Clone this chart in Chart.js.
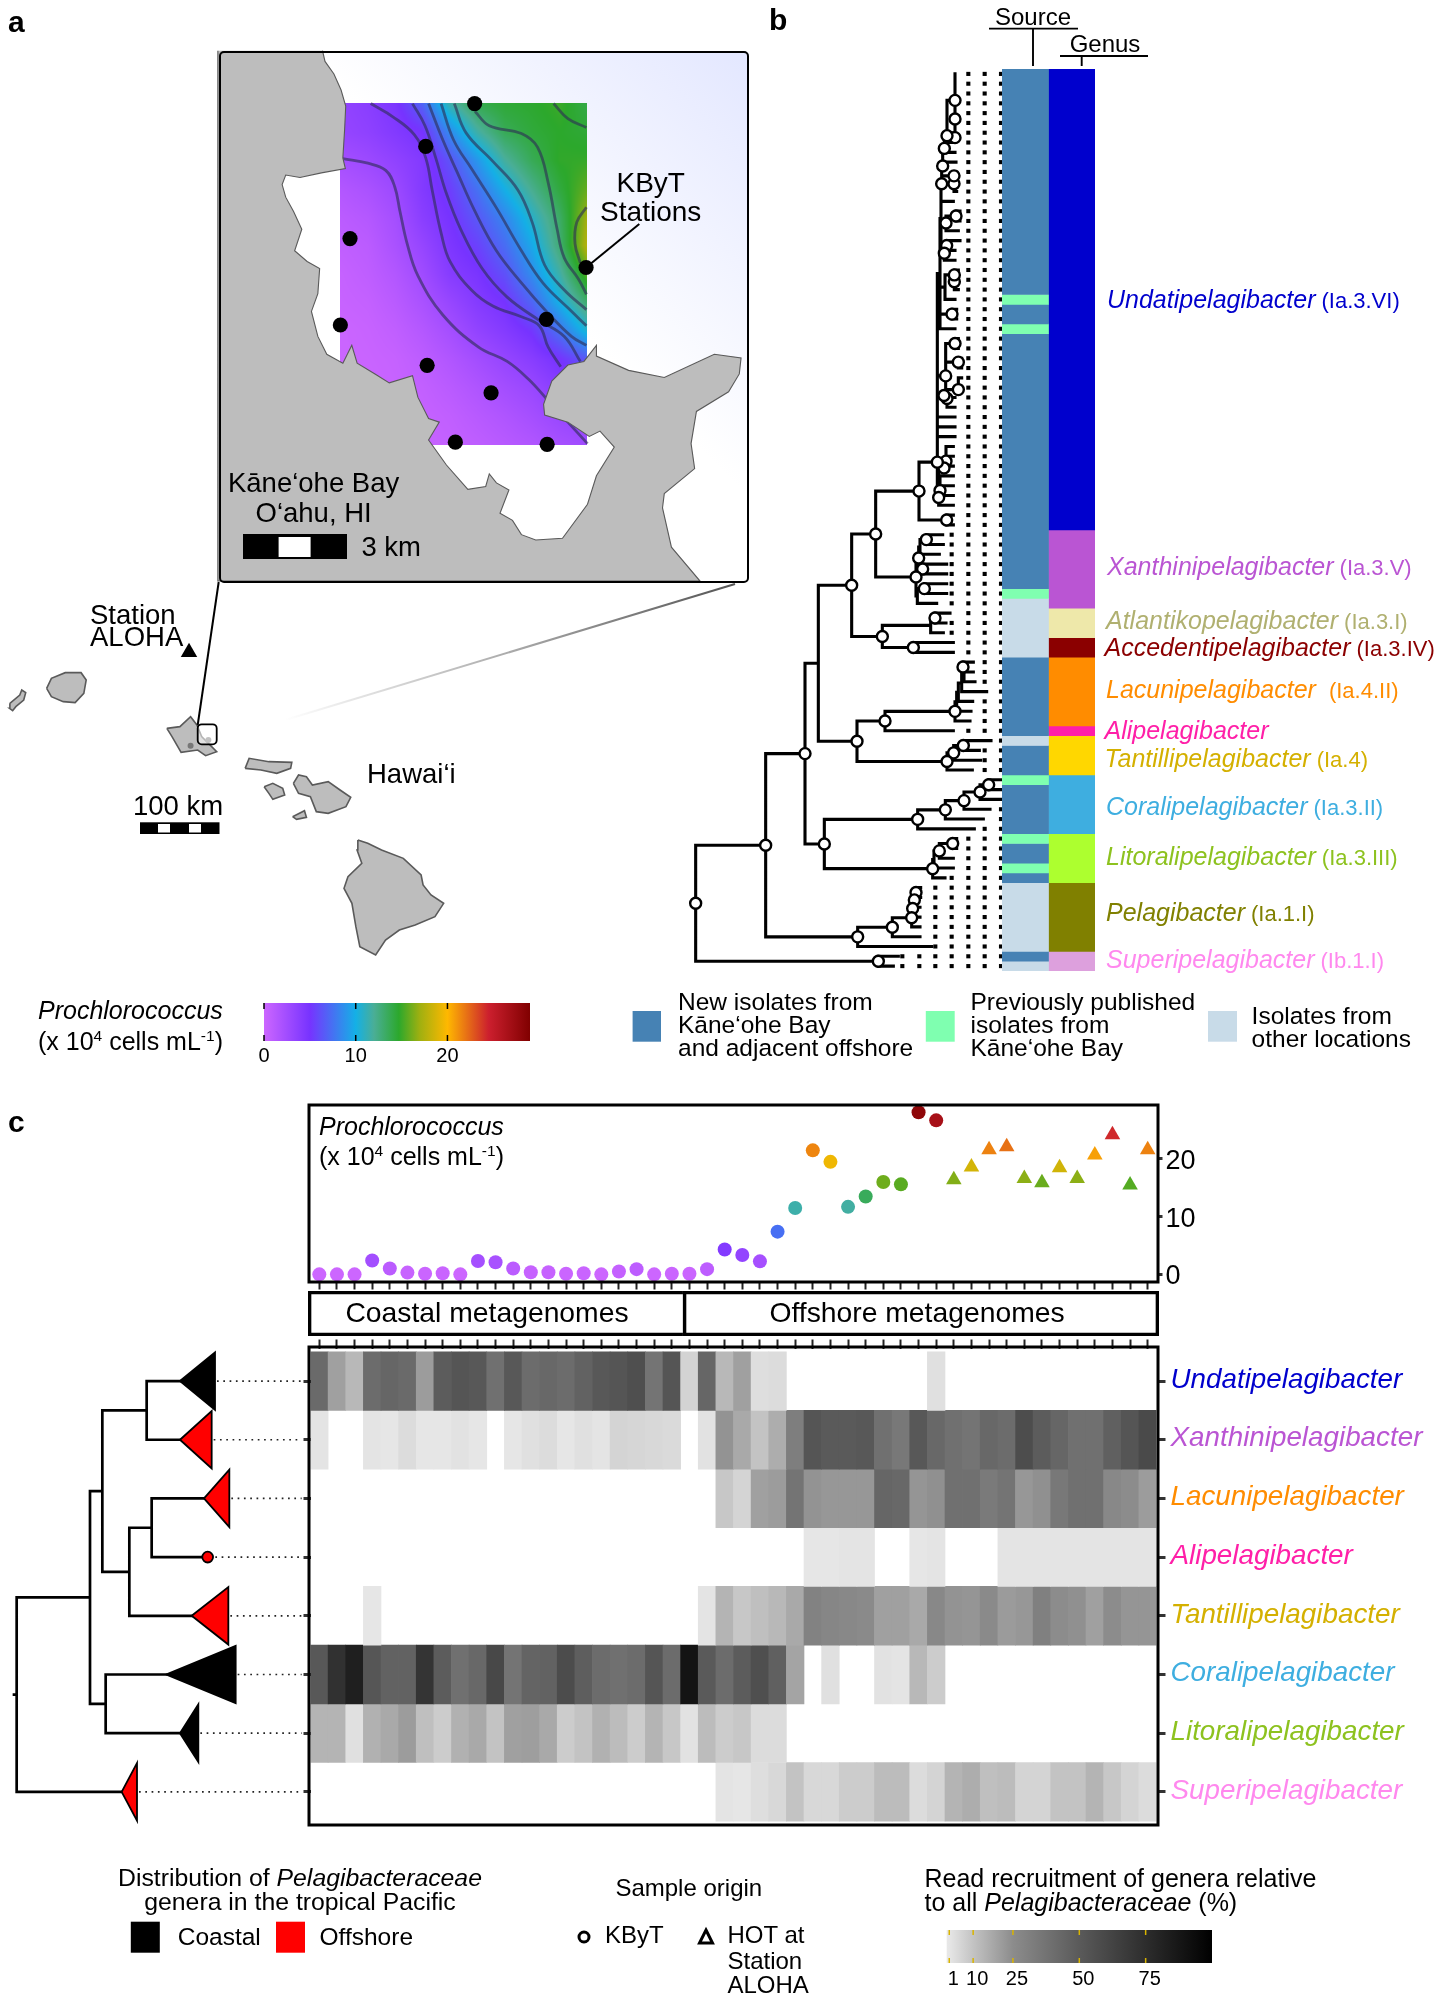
<!doctype html>
<html><head><meta charset="utf-8">
<style>
html,body{margin:0;background:#fff}
body{width:1444px;height:2000px;overflow:hidden}
#page{position:absolute;left:0;top:0;width:1444px;height:2000px;overflow:hidden;font-family:"Liberation Sans",Arial,sans-serif;color:#000}
canvas,.t,svg,.box{position:absolute}
.t{white-space:nowrap;line-height:1}
sup{font-size:62%;vertical-align:baseline;position:relative;top:-.55em;line-height:0}
</style>
<script src="https://cdn.jsdelivr.net/npm/chart.js@4"></script>
</head><body><div id="page"></div>
<script>
/* ---------- panel c data ---------- */
const sampleIds = ['K1','K2','K3','K4','K5','K6','K7','K8','K9','K10','K11','K12','K13','K14','K15','K16','K17','K18','K19','K20','K21','O1','O2','O3','O4','O5','O6','O7','O8','O9','O10','O11','O12','O13','O14','O15','H1','H2','H3','H4','H5','H6','H7','H8','H9','H10','H11','H12'];
const prochlorococcus = [0,0,0,2.4,1,0.3,0.1,0.2,0,2.3,2.1,1,0.35,0.35,0.1,0.2,0,0.5,0.9,0,0.1,0.1,0.9,4.3,3.35,2.25,7.4,11.5,21.5,19.5,11.7,13.5,16,15.6,28.1,26.7,16.4,18.6,21.6,22.1,16.6,15.9,18.5,16.6,20.7,24.2,15.5,21.6];
const sampleOrigin = ['KByT','KByT','KByT','KByT','KByT','KByT','KByT','KByT','KByT','KByT','KByT','KByT','KByT','KByT','KByT','KByT','KByT','KByT','KByT','KByT','KByT','KByT','KByT','KByT','KByT','KByT','KByT','KByT','KByT','KByT','KByT','KByT','KByT','KByT','KByT','KByT','HOT','HOT','HOT','HOT','HOT','HOT','HOT','HOT','HOT','HOT','HOT','HOT'];
const genusRows = ['Undatipelagibacter','Xanthinipelagibacter','Lacunipelagibacter','Alipelagibacter','Tantillipelagibacter','Coralipelagibacter','Litoralipelagibacter','Superipelagibacter'];
const genusRowColors = ['#0000cd','#ba55d3','#ff8c00','#ff1fa8','#d4b000','#3eaee0','#8dc21f','#ff88ee'];
const undati = [42,19.5,13,41,44,42,20.6,49,53,51,39,51,41,43,41,46,51,53,56,37,53,6,44,13,19.5,3,3.5,0,0,0,0,0,0,0,0,2.5,0,0,0,0,0,0,0,0,0,0,0,0];
const xanthi = [1.5,0,0,1.5,1,3.5,1,1,2,1,0,1,2.5,3.5,1,2.5,1.5,5.6,5,4.6,4,0,2,23,17,10,16,32,53,50,50,51,39,35,51,43,39,37,43,41,57,49,44,39,39,47,53,59];
const lacuni = [0,0,0,0,0,0,0,0,0,0,0,0,0,0,0,0,0,0,0,0,0,0,0,9,5.6,19.5,20.6,37,23,22,22,22,44,43,22.5,24,39,39,34,37,22,24,35,39,39,27,25,20.6];
const ali = [0,0,0,0,0,0,0,0,0,0,0,0,0,0,0,0,0,0,0,0,0,0,0,0,0,0,0,0,1,1,1.5,1.5,0,0,1,1.5,0,0,0,1.5,1.5,1.5,1.5,1.5,1.5,1.5,1.5,1.5];
const tantilli = [0,0,0,1,0,0,0,0,0,0,0,0,0,0,0,0,0,0,0,0,0,0,1.5,14,9,11,13,17,30,28,27,26,19.5,19.5,17,27,23,22.5,26,21,22,31,25,24,19.5,25,22.5,22.5];
const corali = [51,73,83,52,46,46,71,49,39,43,60,37,45,46,58,48,41,39,41,53,41,89,50,41,49,56,47,18.5,0,2.5,0,0,2,1.5,13,7.7,0,0,0,0,0,0,0,0,0,0,0,0];
const litoral = [14,14,2.5,15,17,20.6,11,7.7,15,17,10,19.5,20,17,7.7,10,15,12,7.7,14,9,2,12,7.7,9,3.5,3.5,0,0,0,0,0,0,0,0,0,0,0,0,0,0,0,0,0,0,0,0,0];
const superi = [0,0,0,0,0,0,0,0,0,0,0,0,0,0,0,0,0,0,0,0,0,0,0,1.5,1,3,4.6,10,4.6,4.6,7.7,7.7,12,12,3.5,5.6,14,16,11,12,5.6,5.6,10,10,14,9,5.6,3.5];
const heatRows = [undati,xanthi,lacuni,ali,tantilli,corali,litoral,superi];
const regionNames = ['Coastal metagenomes','Offshore metagenomes'];
const regionEdges = [0,21.15,48];
const recruitTicks = [1,10,25,50,75];
const grayStops = [[0,232],[1,230],[10,195],[25,140],[50,90],[75,45],[100,0]];
const cellTicks = [0,10,20];
const cellStops = [[0,'#cc66ff'],[5,'#7733ff'],[10,'#14b0e6'],[12,'#4aae96'],[14.7,'#2ca82c'],[17,'#a0b010'],[20,'#ffb800'],[24.5,'#cc1f2e'],[29,'#800000']];

/* ---------- trees: nodes are depth values, tips are numbers; rows follow tip order ---------- */
const N=(x,...c)=>({x,c,m:true});
const B=(x,...c)=>({x,c,m:false});
const R=(x,r,...c)=>({x,r,c,m:true});
const treeCdata = B(50,B(270,B(307,B(440,540,540),B(388,B(455,612,610),575)),B(317,498,540)),365);
const cladeTip = [540,540,612,623,575,498,540,365];
const cladeEnd = [645,635,688,640,685,707,595,411];
const cladeHabitat = ['coastal','offshore','offshore','offshore','offshore','coastal','coastal','offshore'];
const undatiTop = R(905,11.2,R(908,9.4,R(913,7.6,R(921,6.3,R(945,2.7,945,B(945,R(945,4.6,945,945,945),R(945,6.5,945,945))),945),945),945,948),R(942,10.4,950,R(942,11.2,950,950)));
const undatiSpine = B(892,
  B(900,
    B(903,undatiTop,940,R(918,15.2,R(948,14.5,960,960),955),R(913,18.3,R(920,17.5,960,945),945)),
    B(915,R(943,20.5,955,R(943,21.2,955,955)),945),
    R(936,24.5,950,950),
    945),
  R(917,30.8,R(945,27.5,955,955),R(955,29.4,965,965),R(955,32.2,965,965)),
  R(912,32.8,R(921,33.1,945,945)),
  945,945,945);
const undatiLow = R(896,43.2,R(912,40.2,R(918,39.5,940,940),940),R(900,42.5,940,940),940,940);
const treeBdata = N(167,
  N(377,
    N(495,
      B(535,
        N(635,
          N(707,
            N(837,R(892,39.6,undatiSpine,undatiLow),N(920,940,940)),
            N(828,N(836,B(840,N(859,908,910),898),N(848,920,920)),B(832,N(853,920,920),890))),
          N(727,B(872,N(885,930,918),910),N(820,940,940))),
        N(651,
          N(735,N(945,B(950,B(955,B(965,B(972,N(969,1000,1000),1005),1040),998),993),990),940),
          N(921,N(941,N(970,1053,1018),1022),997))),
      N(553,
        N(833,N(916,N(972,N(1020,N(1046,1087,1087),1087),1050),1030),1003),
        N(878,B(882,N(898,N(938,950,950),940),940),915))),
    N(653,N(757,N(815,N(818,N(823,N(828,842,842),840),840),840),840),875)),
  N(715,775,760));
const leaderCols = [787,838,886,935,985,1034,1083];

/* ---------- panel b bars ---------- */
const barColumns = ['Source','Genus'];
const sourceEdges = [0,23,24,26,27,53,54,60,68,69,72,73,78,79,81,82,83,90,91,92];
const sourceKinds = ['new','prev','new','prev','new','prev','other','new','other','new','prev','new','prev','new','prev','new','other','new','other'];
const sourceColors = {new:'#4682b4',prev:'#7fffb0',other:'#c8dbe8'};
const genusEdges = [0,47,55,58,60,67,68,72,78,83,90,92];
const genusBarColors = ['#0000cd','#ba55d3','#eee8aa','#8b0000','#ff8c00','#ff1fa8','#ffd700','#3eaee0','#adff2f','#808000','#dda0dd'];
const genusNames = ['Undatipelagibacter','Xanthinipelagibacter','Atlantikopelagibacter','Accedentipelagibacter','Lacunipelagibacter','Alipelagibacter','Tantillipelagibacter','Coralipelagibacter','Litoralipelagibacter','Pelagibacter','Superipelagibacter'];
const genusClades = ['(Ia.3.VI)','(Ia.3.V)','(Ia.3.I)','(Ia.3.IV)','(Ia.4.II)','','(Ia.4)','(Ia.3.II)','(Ia.3.III)','(Ia.1.I)','(Ib.1.I)'];
const genusLabelColors = ['#0000cd','#ba55d3','#b0b070','#8b0000','#ff8c00','#ff1fa8','#d4b000','#3eaee0','#8dc21f','#808000','#ff88ee'];

/* ---------- panel a map data (map units) ---------- */
const kaneoheLand = [[343,30],[350,60],[375,95],[395,140],[408,185],[405,250],[400,330],[407,360],[340,372],[280,385],[240,378],[230,405],[240,440],[262,480],[285,530],[265,590],[300,620],[335,640],[330,710],[312,760],[330,830],[355,880],[400,905],[425,855],[440,905],[490,935],[530,960],[595,940],[610,1000],[640,1060],[670,1070],[640,1120],[690,1190],[750,1258],[800,1250],[810,1215],[830,1240],[865,1260],[840,1325],[875,1345],[900,1385],[940,1400],[1015,1395],[1085,1300],[1110,1220],[1160,1140],[1120,1095],[1090,1110],[1030,1070],[965,1050],[962,1020],[985,955],[1030,910],[1075,900],[1110,855],[1110,885],[1200,925],[1300,945],[1440,880],[1515,890],[1510,935],[1480,985],[1390,1040],[1375,1130],[1385,1200],[1300,1270],[1295,1310],[1320,1420],[1400,1515],[50,1515],[50,30]];
const contours = [
 [[400,332],[470,345],[520,365],[545,410],[560,480],[580,570],[610,660],[680,770],[780,860],[860,900],[920,950],[975,1010],[1030,1070],[1085,1130]],
 [[478,178],[540,215],[600,265],[632,330],[650,420],[675,540],[700,620],[760,700],[820,745],[900,775],[950,800],[975,860],[1010,915]],
 [[595,178],[630,240],[660,330],[690,430],[730,530],[790,640],[860,720],[950,785],[1020,830],[1065,900]],
 [[640,178],[680,280],[720,370],[770,480],[830,590],[900,680],[970,760],[1040,830],[1082,855]],
 [[675,178],[710,280],[760,360],[830,470],[900,590],[960,680],[1030,750],[1082,800]],
 [[712,178],[745,260],[820,340],[890,420],[930,510],[965,630],[1020,700],[1082,755]],
 [[770,200],[810,240],[900,262],[945,300],[975,400],[1000,530],[1020,610],[1060,670],[1082,712]],
 [[990,178],[1030,220],[1082,245]],
 [[1082,468],[1055,510],[1050,570],[1065,625]]];
const stations = [[769,178],[632,298],[420,556],[393,798],[636,911],[815,988],[715,1126],[972,1132],[970,782],[1081,637]];
const stationPointer = [[1081,637],[1230,515]];
const fieldCols = [393,470,547,624,700,777,854,931,1007,1084];
const fieldRows = [177,257,336,416,496,575,655,735,814,894,974,1053,1133];
const fieldValues = [
 [3.4,3.9,4.7,7.0,11.5,13.8,14.4,14.6,15.0,14.0],
 [3.2,3.6,4.3,5.0,8.5,11.6,13.6,14.3,14.7,14.4],
 [2.3,2.8,3.5,4.3,6.3,9,11.8,13.6,14.8,14.9],
 [1.5,2.0,2.8,4.3,5.5,7.5,10,12.2,14.2,15.8],
 [1.0,1.4,2.3,3.9,5.0,6.5,8.3,10.8,13.2,17.0],
 [0.7,1.0,2.0,3.2,4.6,5.6,7.3,9.7,12.8,17.6],
 [0.4,0.8,1.5,2.6,4.1,4.8,6.2,8.6,11.5,15.5],
 [0.3,0.5,1.1,2.0,3.1,4.2,5.0,7.0,10,13],
 [0.1,0.3,0.7,1.4,2.3,3.4,4.2,5.2,7.5,10.5],
 [0.1,0.2,0.4,0.9,1.6,2.4,3.2,4.0,5.0,6.5],
 [0.1,0.1,0.3,0.6,1.1,1.7,2.4,3.0,4,5],
 [0,0.1,0.2,0.4,0.7,1.2,1.7,2.3,3,3.5],
 [0,0.1,0.2,0.3,0.5,0.8,1.2,1.6,2.2,2.6]];
const islands = [
 [[25,430],[50,405],[55,390],[65,398],[60,420],[40,440],[32,452],[24,445]],
 [[118,385],[130,355],[165,338],[205,338],[218,360],[212,400],[190,428],[160,425],[130,410]],
 [[422,505],[455,500],[482,470],[498,495],[510,530],[548,575],[520,587],[500,570],[458,577],[435,530]],
 [[620,625],[630,595],[680,605],[738,607],[735,625],[700,640],[660,630]],
 [[668,680],[690,670],[715,685],[720,705],[690,718],[680,700]],
 [[742,670],[755,645],[775,650],[790,675],[830,665],[860,690],[887,712],[875,740],[830,760],[800,755],[785,710],[755,700]],
 [[740,770],[770,752],[775,772],[750,778]],
 [[905,840],[930,850],[965,870],[1020,895],[1065,945],[1070,975],[1090,1005],[1122,1030],[1100,1070],[1050,1095],[1010,1110],[975,1140],[950,1185],[910,1160],[900,1100],[890,1030],[870,985],[880,950],[915,910],[903,870]]];
const harbors = [[482,557],[527,540]];
const stationAloha = [[478,277]];

/* ---------- helpers ---------- */
const page = document.getElementById('page');
Chart.defaults.font.family = '"Liberation Sans",Arial,sans-serif';
const lerp=(a,b,t)=>a+(b-a)*t;
const hex=h=>[1,3,5].map(i=>parseInt(h.substr(i,2),16));
function cellRGB(v){v=Math.max(0,Math.min(29,v));for(let i=1;i<cellStops.length;i++){if(v<=cellStops[i][0]){const t=(v-cellStops[i-1][0])/(cellStops[i][0]-cellStops[i-1][0]);const a=hex(cellStops[i-1][1]),b=hex(cellStops[i][1]);return [0,1,2].map(k=>Math.round(lerp(a[k],b[k],t)));}}return hex(cellStops[cellStops.length-1][1]);}
const cellColor=v=>`rgb(${cellRGB(v).join(',')})`;
function grayLevel(p){for(let i=1;i<grayStops.length;i++){if(p<=grayStops[i][0]){const t=(p-grayStops[i-1][0])/(grayStops[i][0]-grayStops[i-1][0]);return Math.round(lerp(grayStops[i-1][1],grayStops[i][1],t));}}return 0;}
const grayColor=p=>{if(p<=0)return 'rgba(255,255,255,0)';const g=grayLevel(p);return `rgb(${g},${g},${g})`;};
const pts=a=>a.map(p=>({x:p[0],y:p[1]}));
const GAP={x:NaN,y:NaN};
const shapePlugin={id:'shapeFill',beforeDatasetDraw(chart,args){const ds=chart.data.datasets[args.index];if(!ds.shapeFill)return;const d=args.meta.data,c=chart.ctx;c.save();c.beginPath();d.forEach((p,i)=>i?c.lineTo(p.x,p.y):c.moveTo(p.x,p.y));c.closePath();c.fillStyle=ds.shapeFill;c.fill();c.restore();}};
Chart.register(shapePlugin);
const framePlugin={id:'frame',afterDatasetsDraw(ch){const a=ch.chartArea,c=ch.ctx;c.save();c.lineWidth=3;c.strokeStyle='#000';c.strokeRect(a.left-1.5,a.top-1.5,a.right-a.left+3,a.bottom-a.top+3);c.restore();}};
const noPad=s=>{s.paddingTop=0;s.paddingBottom=0;s.paddingLeft=0;s.paddingRight=0;};
const fixW=w=>s=>{s.width=w;noPad(s);};
const fixH=h=>s=>{s.height=h;noPad(s);};
function mk(x,y,w,h,cfg){const cv=document.createElement('canvas');cv.width=w;cv.height=h;cv.style.cssText=`left:${x}px;top:${y}px;width:${w}px;height:${h}px`;page.appendChild(cv);
 const o=cfg.options||{};o.responsive=false;o.maintainAspectRatio=false;o.animation=false;o.events=[];o.plugins=Object.assign({legend:{display:false},tooltip:{enabled:false}},o.plugins||{});o.layout=Object.assign({padding:0,autoPadding:false},o.layout||{});cfg.options=o;return new Chart(cv,cfg);}
function txt(html,x,y,size,opt={}){const d=document.createElement('div');d.className='t';d.innerHTML=html;const tx=opt.align==='center'?'-50%':'0';d.style.cssText=`left:${x}px;top:${y}px;font-size:${size}px;transform:translate(${tx},-50%);color:${opt.color||'#000'};${opt.italic?'font-style:italic;':''}${opt.bold?'font-weight:bold;':''}`;page.appendChild(d);return d;}
function rect(x,y,w,h,bg){const d=document.createElement('div');d.className='box';d.style.cssText=`left:${x}px;top:${y}px;width:${w}px;height:${h}px;background:${bg}`;page.appendChild(d);return d;}
function buildTree(root){const st={row:0,lines:[],marks:[],tips:[]};
 function walk(n){if(typeof n==='number'){const y=st.row++ +0.5;st.tips.push({x:n,y});return {x:n,y};}
  const kids=n.c.map(walk);const ys=kids.map(k=>k.y);const y=n.r!==undefined?n.r+0.5:(ys[0]+ys[ys.length-1])/2;
  st.lines.push({x:n.x,y:Math.min(...ys,y)},{x:n.x,y:Math.max(...ys,y)},GAP);
  kids.forEach(k=>st.lines.push({x:n.x,y:k.y},{x:k.x,y:k.y},GAP));
  if(n.m)st.marks.push({x:n.x,y});return {x:n.x,y};}
 st.root=walk(root);return st;}
const hiddenLinear=(min,max,extra={})=>Object.assign({type:'linear',display:false,min,max},extra);
const barTickPlugin=(color,len)=>({id:'barTicks',afterDatasetsDraw(ch){const s=ch.scales.x,a=ch.chartArea,c=ch.ctx;c.save();c.strokeStyle=color;c.lineWidth=1.5;s.ticks.forEach(t=>{const x=s.getPixelForValue(t.value);c.beginPath();c.moveTo(x,a.top);c.lineTo(x,a.top+len);c.moveTo(x,a.bottom-len);c.lineTo(x,a.bottom);c.stroke();});c.restore();}});

/* ---------- panel a: inset map ---------- */
rect(218.5,50.5,530,532,'linear-gradient(to top right,#ffffff 58%,#e3e7ff 100%)').style.borderRadius='5px';
const fieldPlugin={id:'field',beforeDatasetsDraw(ch){const sx=ch.scales.x,sy=ch.scales.y,c=ch.ctx;
 const x0=sx.getPixelForValue(fieldCols[0]),x1=sx.getPixelForValue(fieldCols[fieldCols.length-1]),y0=sy.getPixelForValue(fieldRows[0]),y1=sy.getPixelForValue(fieldRows[fieldRows.length-1]);
 const W=Math.round(x1-x0),H=Math.round(y1-y0);const off=document.createElement('canvas');off.width=W;off.height=H;const oc=off.getContext('2d');const im=oc.createImageData(W,H);
 const nx=fieldCols.length-1,ny=fieldRows.length-1;
 for(let j=0;j<H;j++){const fy=j/(H-1)*ny,iy=Math.min(ny-1,Math.floor(fy)),ty=fy-iy;for(let i=0;i<W;i++){const fx=i/(W-1)*nx,ix=Math.min(nx-1,Math.floor(fx)),tx=fx-ix;
   const v=lerp(lerp(fieldValues[iy][ix],fieldValues[iy][ix+1],tx),lerp(fieldValues[iy+1][ix],fieldValues[iy+1][ix+1],tx),ty);const rgb=cellRGB(v);const o=(j*W+i)*4;im.data[o]=rgb[0];im.data[o+1]=rgb[1];im.data[o+2]=rgb[2];im.data[o+3]=255;}}
 oc.putImageData(im,0,0);c.drawImage(off,x0,y0,x1-x0,y1-y0);}};
const mapDatasets=[
 {data:pts(stations),showLine:false,pointRadius:7.6,pointBackgroundColor:'#000',pointBorderWidth:0,clip:false},
 {data:pts(stationPointer),showLine:true,borderColor:'#000',borderWidth:2,pointRadius:0},
 {data:pts(kaneoheLand),showLine:true,shapeFill:'#bdbdbd',borderColor:'#5a5a5a',borderWidth:1.1,pointRadius:0},
 ...contours.map(c=>({data:pts(c),showLine:true,tension:0.4,borderColor:'rgba(45,45,85,0.62)',borderWidth:2.8,pointRadius:0}))];
mk(200,40,560,560,{type:'scatter',data:{datasets:mapDatasets},plugins:[fieldPlugin],options:{scales:{x:hiddenLinear(0,1568),y:hiddenLinear(0,1568,{reverse:true})}}});
const fr=rect(218.5,50.5,530,532,'transparent');fr.style.border='2.6px solid #000';fr.style.borderRadius='5px';fr.style.boxSizing='border-box';

/* panel a: overview map */
mk(0,560,620,520,{type:'scatter',data:{datasets:[
  {data:pts(stationAloha),showLine:false,pointStyle:'triangle',pointRadius:9.5,pointBackgroundColor:'#000',pointBorderWidth:0},
  {data:pts(harbors),showLine:false,pointRadius:3,pointBackgroundColor:'#777',pointBorderWidth:0},
  ...islands.map(p=>({data:pts(p.concat([p[0]])),showLine:true,shapeFill:'#bdbdbd',borderColor:'#5a5a5a',borderWidth:1.6,pointRadius:0}))]},
  options:{scales:{x:hiddenLinear(0,1568),y:hiddenLinear(0,1560,{reverse:true})}}});

/* cell colour bar */
mk(250,1000,300,70,{type:'bar',plugins:[barTickPlugin('#000',6)],data:{labels:['cells'],datasets:[{data:[[0,29]],barPercentage:1,categoryPercentage:1,backgroundColor(ctx){const a=ctx.chart.chartArea;if(!a)return '#000';const g=ctx.chart.ctx.createLinearGradient(a.left,0,a.right,0);cellStops.forEach(s=>g.addColorStop(s[0]/29,s[1]));return g;}}]},
 options:{indexAxis:'y',layout:{padding:{left:14,right:20,top:3}},scales:{y:{display:false},x:{type:'linear',min:0,max:29,position:'bottom',afterFit:fixH(29),afterBuildTicks(s){s.ticks=cellTicks.map(v=>({value:v}));},grid:{display:false,drawTicks:false,tickLength:0},border:{display:false},ticks:{color:'#000',font:{size:20},padding:3,maxRotation:0}}}}});

/* ---------- panel b: tree ---------- */
const tb=buildTree(treeBdata);
const leaderDots=[];tb.tips.forEach(t=>leaderCols.forEach(c=>{if(c>t.x+8)leaderDots.push({x:c,y:t.y});}));
mk(640,69,480,902,{type:'scatter',data:{datasets:[
  {data:tb.marks,showLine:false,pointRadius:5.5,pointBorderWidth:2.4,pointBorderColor:'#000',pointBackgroundColor:'#fff',clip:false},
  {data:tb.lines,showLine:true,spanGaps:false,borderColor:'#000',borderWidth:3.1,borderCapStyle:'square',pointRadius:0,clip:false},
  {data:leaderDots,showLine:false,pointStyle:'rect',pointRadius:2.9,pointBackgroundColor:'#000',pointBorderWidth:0,clip:false}]},
 options:{scales:{x:hiddenLinear(0,1440),y:hiddenLinear(0,92,{reverse:true})}}});
const srcSets=sourceKinds.map((k,i)=>({data:[[sourceEdges[i],sourceEdges[i+1]],null],backgroundColor:sourceColors[k]}));
const genSets=genusBarColors.map((c,i)=>({data:[null,[genusEdges[i],genusEdges[i+1]]],backgroundColor:c}));
mk(1002,69,93,902,{type:'bar',data:{labels:barColumns,datasets:[...srcSets,...genSets].map(d=>Object.assign(d,{barPercentage:1,categoryPercentage:1,grouped:false}))},
 options:{scales:{x:{type:'category',display:false},y:hiddenLinear(0,92,{reverse:true})}}});

/* ---------- panel c: dots ---------- */
mk(295,1095,1149,205,{type:'line',plugins:[framePlugin],data:{labels:sampleIds,datasets:[{data:prochlorococcus,showLine:false,clip:false,
   pointStyle:sampleOrigin.map(o=>o==='HOT'?'triangle':'circle'),
   pointRadius:sampleOrigin.map(o=>o==='HOT'?9:7),pointBorderWidth:0,
   pointBackgroundColor:prochlorococcus.map(cellColor)}]},
 options:{layout:{padding:{top:11.5,left:0}},scales:{
   x:{type:'category',offset:true,position:'bottom',afterFit:fixH(19.5),grid:{offset:false,drawOnChartArea:false,tickLength:9,tickWidth:2,tickColor:'#222'},border:{display:false},ticks:{display:false,autoSkip:false}},
   yl:{type:'linear',position:'left',min:-1.07,max:29.1,display:true,afterFit:fixW(15.5),grid:{display:false},border:{display:false},ticks:{display:false}},
   y:{type:'linear',position:'right',min:-1.07,max:29.1,afterFit:fixW(287.5),afterBuildTicks(s){s.ticks=cellTicks.map(v=>({value:v}));},grid:{drawOnChartArea:false,tickLength:6,tickWidth:3,tickColor:'#333'},border:{display:false},ticks:{color:'#000',font:{size:27},padding:3,labelOffset:2.7}}}}});

/* region boxes */
mk(308,1291,851,45,{type:'bar',data:{labels:['metagenomes'],datasets:regionNames.map((n,i)=>({label:n,data:[[regionEdges[i],regionEdges[i+1]]],backgroundColor:'rgba(0,0,0,0)',borderColor:'#000',borderWidth:3,borderSkipped:i===0?'right':false,barPercentage:1,categoryPercentage:1,grouped:false}))},
 options:{indexAxis:'y',scales:{x:hiddenLinear(0,48),y:{type:'category',display:false}}}});

/* ---------- panel c: heatmap ---------- */
const heatTicks=s=>{s.ticks=genusRows.map((_,i)=>({value:i+0.5}));};
mk(295,1330,1149,510,{type:'bar',plugins:[framePlugin],data:{labels:sampleIds,datasets:heatRows.map((row,r)=>({label:genusRows[r],data:row.map(()=>[r,r+1]),backgroundColor:row.map(grayColor),barPercentage:1,categoryPercentage:1,grouped:false}))},
 options:{layout:{padding:{bottom:16.5}},scales:{
   x:{type:'category',position:'top',offset:true,afterFit:fixH(18.5),grid:{offset:false,drawOnChartArea:false,tickLength:9,tickWidth:2,tickColor:'#222'},border:{display:false},ticks:{display:false,autoSkip:false}},
   y:{type:'linear',position:'left',reverse:true,min:-0.055,max:8.04,afterFit:fixW(15.5),afterBuildTicks:heatTicks,grid:{drawOnChartArea:false,tickLength:7,tickWidth:3,tickColor:'#333'},border:{display:false},ticks:{display:false}},
   yr:{type:'linear',position:'right',reverse:true,min:-0.055,max:8.04,afterFit:fixW(287.5),afterBuildTicks:heatTicks,grid:{drawOnChartArea:false,tickLength:9,tickWidth:3,tickColor:'#333'},border:{display:false},
     ticks:{autoSkip:false,padding:5,labelOffset:-1,font:{size:27.8,style:'italic'},color:ctx=>genusRowColors[ctx.index],callback:(v,i)=>genusRows[i]}}}}});

/* panel c: left tree */
const tc=buildTree(treeCdata);
tc.lines.push({x:42,y:tc.root.y},{x:50,y:tc.root.y},GAP);
const cladeColor=h=>h==='coastal'?'#000':'#ff0000';
const cladeSets=[];
cladeTip.forEach((t,r)=>{if(r===3)return;const poly=[[t,r+0.5],[cladeEnd[r],r+0.01],[cladeEnd[r],r+0.99],[t,r+0.5]];cladeSets.push({data:pts(poly),showLine:true,shapeFill:cladeColor(cladeHabitat[r]),borderColor:'#000',borderWidth:1.8,pointRadius:0,clip:false});});
const leaderC=[];cladeEnd.forEach((e,r)=>leaderC.push({x:e+6,y:r+0.5},{x:905,y:r+0.5},GAP));
mk(0,1320,320,520,{type:'scatter',data:{datasets:[
  {data:[{x:cladeTip[3],y:3.5}],showLine:false,pointRadius:5.4,pointBackgroundColor:'#ff0000',pointBorderColor:'#000',pointBorderWidth:1.8,clip:false},
  ...cladeSets,
  {data:tc.lines,showLine:true,spanGaps:false,borderColor:'#000',borderWidth:2.7,borderCapStyle:'square',pointRadius:0},
  {data:leaderC,showLine:true,spanGaps:false,borderColor:'#222',borderWidth:1.7,borderDash:[1.7,4.6],pointRadius:0}]},
 options:{scales:{x:hiddenLinear(0,960),y:hiddenLinear(-0.54,8.32,{reverse:true})}}});

/* recruitment colour bar */
mk(932,1926,300,64,{type:'bar',plugins:[barTickPlugin('#d9b400',5)],data:{labels:['recruitment'],datasets:[{data:[[0,100]],barPercentage:1,categoryPercentage:1,backgroundColor(ctx){const a=ctx.chart.chartArea;if(!a)return '#000';const g=ctx.chart.ctx.createLinearGradient(a.left,0,a.right,0);grayStops.forEach(s=>g.addColorStop(s[0]/100,`rgb(${s[1]},${s[1]},${s[1]})`));return g;}}]},
 options:{indexAxis:'y',layout:{padding:{left:14.6,right:20,top:4}},scales:{y:{display:false},x:{type:'linear',min:0,max:100,position:'bottom',afterFit:fixH(27),afterBuildTicks(s){s.ticks=recruitTicks.map(v=>({value:v}));},grid:{display:false,drawTicks:false,tickLength:0},border:{display:false},ticks:{color:'#000',font:{size:20},padding:4,labelOffset:4,autoSkip:false,maxRotation:0}}}}});

/* ---------- decoration: brackets, connectors, scale bars, legend glyphs ---------- */
const svg=document.createElementNS('http://www.w3.org/2000/svg','svg');
svg.setAttribute('width','1444');svg.setAttribute('height','2000');svg.style.cssText='left:0;top:0';
svg.innerHTML=`<defs><linearGradient id="fade" gradientUnits="userSpaceOnUse" x1="735" y1="584" x2="285" y2="720"><stop offset="0" stop-color="#555"/><stop offset="1" stop-color="#555" stop-opacity="0"/></linearGradient></defs>
<line x1="218.7" y1="582" x2="197.7" y2="725" stroke="#000" stroke-width="2"/>
<line x1="735" y1="584" x2="285" y2="720" stroke="url(#fade)" stroke-width="2"/>
<rect x="197.7" y="724.3" width="19" height="20" rx="4" fill="rgba(255,255,255,.55)" stroke="#000" stroke-width="1.8"/>
<rect x="243" y="534" width="104" height="25" fill="#000"/><rect x="278.6" y="537" width="32" height="20" fill="#fff"/>
<rect x="140" y="822.3" width="79.5" height="11.7" fill="#000"/><rect x="158" y="824" width="12" height="8.5" fill="#fff"/><rect x="189" y="824" width="12" height="8.5" fill="#fff"/>
<g stroke="#000" stroke-width="1.9"><line x1="989" y1="28.6" x2="1078" y2="28.6"/><line x1="1033" y1="28.6" x2="1033" y2="66"/><line x1="1060" y1="56" x2="1148" y2="56"/><line x1="1081.7" y1="56" x2="1081.7" y2="66"/></g>
<rect x="632.6" y="1011" width="28.4" height="30.7" fill="#4682b4"/><rect x="925.8" y="1011" width="28.9" height="30.7" fill="#7fffb0"/><rect x="1208" y="1011" width="29" height="30.7" fill="#c8dbe8"/>
<rect x="130.8" y="1921.7" width="29" height="31" fill="#000"/><rect x="276" y="1921.7" width="29" height="31" fill="#f00"/>
<circle cx="584" cy="1937" r="5" fill="#fff" stroke="#000" stroke-width="3"/>
<path d="M706 1930 L712.5 1943 L699.5 1943 Z" fill="#fff" stroke="#000" stroke-width="3"/>`;
page.appendChild(svg);

/* ---------- text ---------- */
txt('a',8,22,30,{bold:true});txt('b',769,20,30,{bold:true});txt('c',8,1122,30,{bold:true});
txt('KByT',650.7,183,28,{align:'center'});txt('Stations',650.7,212,28,{align:'center'});
txt('Kāne‘ohe Bay',313.6,483,27.5,{align:'center'});txt('O‘ahu, HI',313.6,512.5,27.5,{align:'center'});
txt('3 km',361.4,547,27.5);
txt('Station',90,615,27.5);txt('ALOHA',90,637,27.5);txt('Hawai‘i',367,774,27.5);txt('100 km',178,805.7,27.5,{align:'center'});
const prochl=(x,y1,y2)=>{txt('Prochlorococcus',x,y1,25,{italic:true});txt('(x 10<sup>4</sup> cells mL<sup>-1</sup>)',x,y2,25);};
prochl(38,1010,1041);prochl(319,1125.7,1156);
txt('Source',1033,17,24,{align:'center'});txt('Genus',1105,44,24,{align:'center'});
const genusLabelY=[299,566,620,647,689,730,758,806,856,912,959];
const genusLabelX=[1107,1107,1106,1104.5,1106,1104.5,1104.5,1106,1106,1106,1106];
const genusGap=[6,6,6,6,13,0,6,6,6,6,6];
genusNames.forEach((n,i)=>{const c=genusLabelColors[i];txt(`<span style="font-style:italic;font-size:25px">${n}</span><span style="font-size:22px;margin-left:${genusGap[i]}px">${genusClades[i]}</span>`,genusLabelX[i],genusLabelY[i],25,{color:c});});
[['New isolates from',678,1001.7],['Kāne‘ohe Bay',678,1025],['and adjacent offshore',678,1048],['Previously published',970.5,1001.7],['isolates from',970.5,1025],['Kāne‘ohe Bay',970.5,1048],['Isolates from',1251.6,1016],['other locations',1251.6,1039]].forEach(a=>txt(a[0],a[1],a[2],24.5));
txt('Coastal metagenomes',487,1311.7,28.3,{align:'center'});txt('Offshore metagenomes',917,1311.7,28.3,{align:'center'});
txt('Distribution of <i>Pelagibacteraceae</i>',300,1878,24.8,{align:'center'});txt('genera in the tropical Pacific',300,1901.7,24.8,{align:'center'});
txt('Coastal',177.7,1937,24.5);txt('Offshore',319.5,1937,24.5);
txt('Sample origin',688.8,1888,24,{align:'center'});txt('KByT',605,1935,24);
txt('HOT at',727.5,1935,24);txt('Station',727.5,1961,24);txt('ALOHA',727.5,1985,24);
txt('Read recruitment of genera relative',924.5,1878,25);txt('to all <i>Pelagibacteraceae</i> (%)',924.5,1901.7,25);
</script></body></html>
